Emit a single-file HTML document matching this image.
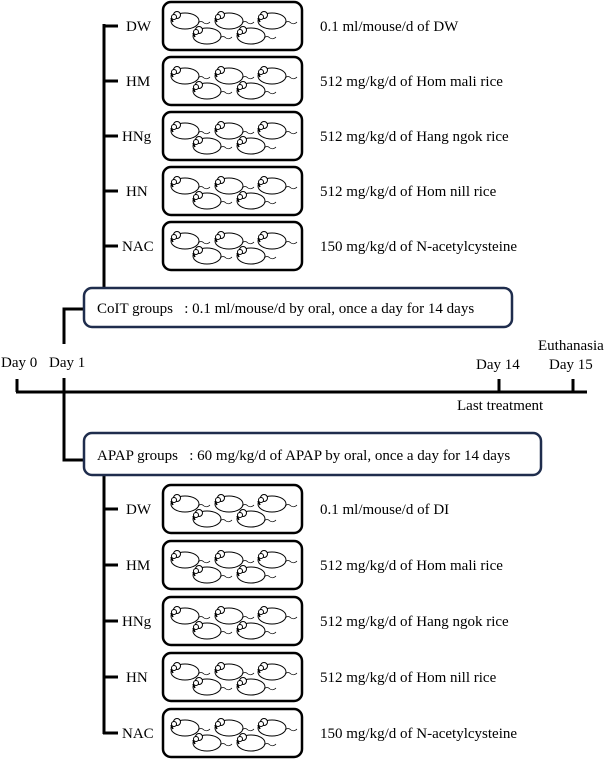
<!DOCTYPE html>
<html><head><style>
body{margin:0;background:#fff;}
svg{display:block;font-family:"Liberation Serif",serif;}
</style></head><body>
<svg width="607" height="763" viewBox="0 0 607 763" xmlns="http://www.w3.org/2000/svg">
<defs>
<g id="m">
<ellipse cx="0" cy="0" rx="14" ry="8" fill="none" stroke="#000" stroke-width="1"/>
<circle cx="-8" cy="-6" r="3.5" fill="#fff" stroke="#000" stroke-width="1"/>
<circle cx="-11" cy="-4" r="2.5" fill="#fff" stroke="#000" stroke-width="1"/>
<path d="M-14,-3 l2,4" stroke="#000" stroke-width="1.5"/>
<path d="M13,2 q3,-3 6,0 q3,2 6,-1" fill="none" stroke="#000" stroke-width="0.7"/>
</g>
<g id="box">
<rect x="163" y="0" width="139" height="48" rx="8" fill="#fff" stroke="#000" stroke-width="2.5"/>
<use href="#m" x="185" y="19"/><use href="#m" x="229" y="19"/><use href="#m" x="272" y="19"/>
<use href="#m" x="207" y="34"/><use href="#m" x="251" y="34"/>
</g>
</defs>
<g font-size="15" fill="#000">
<line x1="104" y1="24" x2="104" y2="290" stroke="#000" stroke-width="3"/>
<use href="#box" y="2"/><line x1="103" y1="26" x2="118" y2="26" stroke="#000" stroke-width="3"/><text x="126" y="31">DW</text><text x="320" y="31">0.1 ml/mouse/d of DW</text>
<use href="#box" y="57"/><line x1="103" y1="81" x2="118" y2="81" stroke="#000" stroke-width="3"/><text x="126" y="86">HM</text><text x="320" y="86">512 mg/kg/d of Hom mali rice</text>
<use href="#box" y="112"/><line x1="103" y1="136" x2="118" y2="136" stroke="#000" stroke-width="3"/><text x="122" y="141">HNg</text><text x="320" y="141">512 mg/kg/d of Hang ngok rice</text>
<use href="#box" y="167"/><line x1="103" y1="191" x2="118" y2="191" stroke="#000" stroke-width="3"/><text x="126" y="196">HN</text><text x="320" y="196">512 mg/kg/d of Hom nill rice</text>
<use href="#box" y="222"/><line x1="103" y1="246" x2="118" y2="246" stroke="#000" stroke-width="3"/><text x="122" y="251">NAC</text><text x="320" y="251">150 mg/kg/d of N-acetylcysteine</text>
<polyline points="84,309 64,309 64,344" fill="none" stroke="#000" stroke-width="3"/>
<rect x="84" y="288" width="428" height="39" rx="8" fill="#fff" stroke="#1f2d4d" stroke-width="2.5"/>
<text x="97" y="313">CoIT groups&#160;&#160; : 0.1 ml/mouse/d by oral, once a day for 14 days</text>
<line x1="16" y1="392" x2="587" y2="392" stroke="#000" stroke-width="3"/>
<line x1="17" y1="379" x2="17" y2="392" stroke="#000" stroke-width="3"/>
<polyline points="64,378 64,460 84,460" fill="none" stroke="#000" stroke-width="3"/>
<line x1="499" y1="379" x2="499" y2="392" stroke="#000" stroke-width="3"/>
<line x1="573" y1="379" x2="573" y2="392" stroke="#000" stroke-width="3"/>
<text x="1" y="367">Day 0</text><text x="49" y="367">Day 1</text>
<text x="476" y="369">Day 14</text><text x="549" y="369">Day 15</text>
<text x="538" y="350">Euthanasia</text>
<text x="457" y="410">Last treatment</text>
<line x1="104" y1="475" x2="104" y2="734" stroke="#000" stroke-width="3"/>
<rect x="84" y="433" width="457" height="42" rx="8" fill="#fff" stroke="#1f2d4d" stroke-width="2.5"/>
<text x="97" y="460">APAP groups&#160;&#160; : 60 mg/kg/d of APAP by oral, once a day for 14 days</text>
<use href="#box" y="485"/><line x1="103" y1="509" x2="118" y2="509" stroke="#000" stroke-width="3"/><text x="126" y="514">DW</text><text x="320" y="514">0.1 ml/mouse/d of DI</text>
<use href="#box" y="541"/><line x1="103" y1="565" x2="118" y2="565" stroke="#000" stroke-width="3"/><text x="126" y="570">HM</text><text x="320" y="570">512 mg/kg/d of Hom mali rice</text>
<use href="#box" y="597"/><line x1="103" y1="621" x2="118" y2="621" stroke="#000" stroke-width="3"/><text x="122" y="626">HNg</text><text x="320" y="626">512 mg/kg/d of Hang ngok rice</text>
<use href="#box" y="653"/><line x1="103" y1="677" x2="118" y2="677" stroke="#000" stroke-width="3"/><text x="126" y="682">HN</text><text x="320" y="682">512 mg/kg/d of Hom nill rice</text>
<use href="#box" y="709"/><line x1="103" y1="733" x2="118" y2="733" stroke="#000" stroke-width="3"/><text x="122" y="738">NAC</text><text x="320" y="738">150 mg/kg/d of N-acetylcysteine</text>
</g>
</svg>
</body></html>
